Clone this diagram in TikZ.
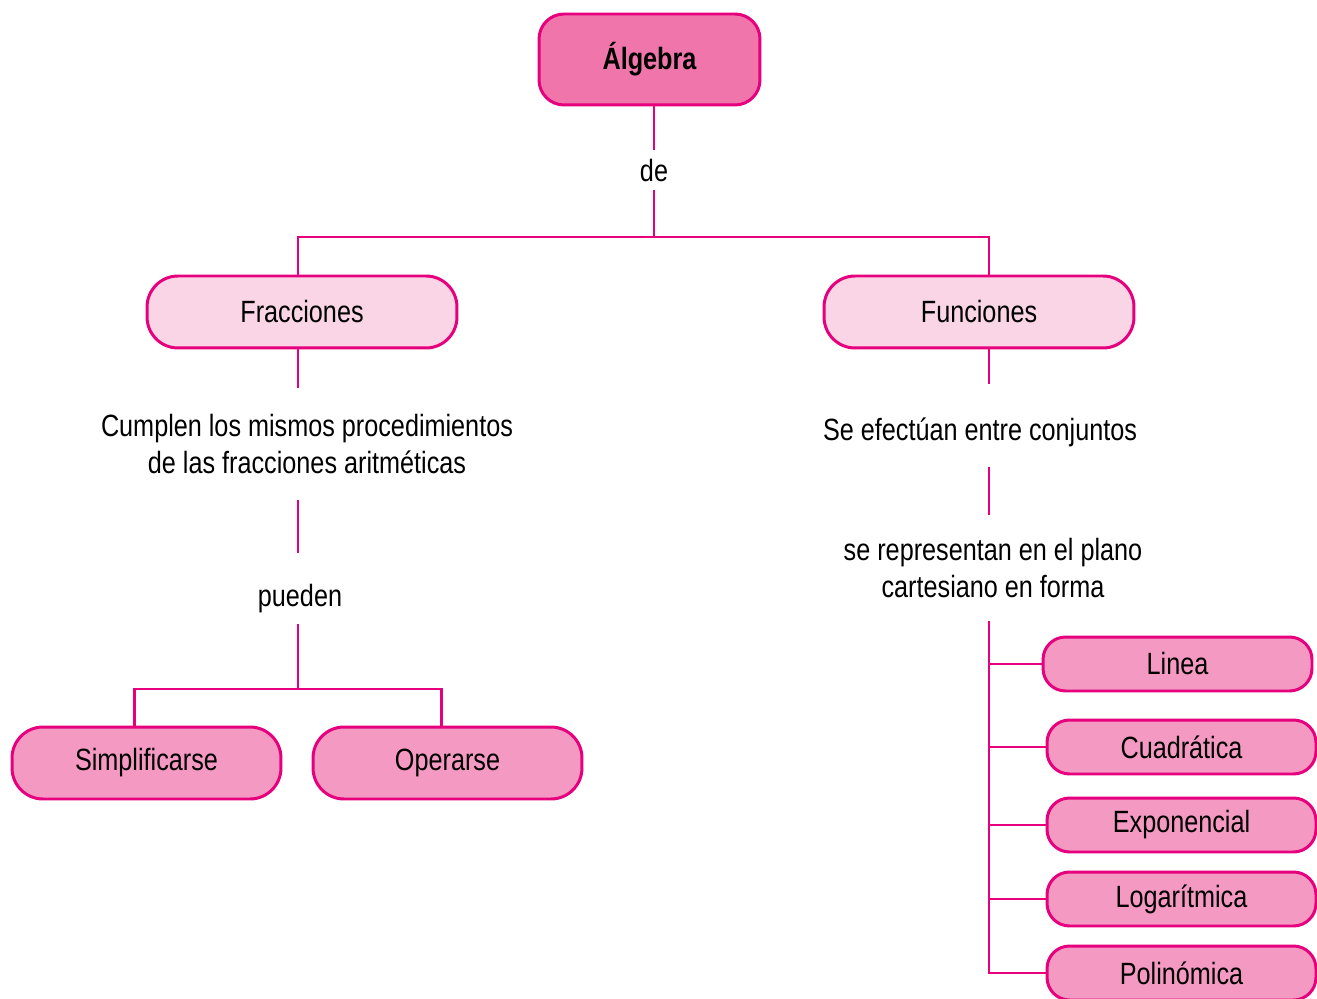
\documentclass[tikz,border=0pt]{standalone}
\usepackage{fontspec}
\setmainfont[FakeStretch=0.82]{Liberation Sans}
\usetikzlibrary{positioning}
\definecolor{mag}{HTML}{E6007E}
\definecolor{topfill}{HTML}{F075AA}
\definecolor{midfill}{HTML}{F9D5E6}
\definecolor{leaffill}{HTML}{F49AC2}

\begin{document}
\begin{tikzpicture}[
   x=0.02cm,y=-0.02cm,
   font=\fontsize{17.5}{21}\selectfont,
   ln/.style={draw=mag,line width=1.5pt},
   box/.style={draw=mag,line width=1.7pt,align=center,inner sep=0pt},
   topbox/.style={box,fill=topfill,rounded corners=0.5cm,minimum width=4.42cm,
                  minimum height=1.82cm,font=\fontsize{17.5}{21}\selectfont\bfseries},
   midbox/.style={box,fill=midfill,rounded corners=0.62cm,minimum width=6.2cm,minimum height=1.44cm},
   lowbox/.style={box,fill=leaffill,rounded corners=0.62cm,minimum width=5.38cm,minimum height=1.44cm},
   leaf/.style={box,fill=leaffill,rounded corners=0.45cm,minimum width=5.38cm,minimum height=1.08cm},
   txt/.style={align=center,inner xsep=0pt,inner ysep=4pt}
 ]
  \useasboundingbox (0,0) rectangle (1317,999);
  \node[topbox] (alg) at (649.5,59.5) {Álgebra};
  \node[txt,text height=13.6pt,text depth=1pt] (de) at (654,170) {de};
  \coordinate (jde) at (654,237);
  \node[midbox] (frac) at (302,312) {Fracciones};
  \node[midbox] (func) at (979,312) {Funciones};

  \node[txt,inner ysep=15pt] (cumplen) at (307,444)
    {Cumplen los mismos procedimientos\\de las fracciones aritméticas};
  \node[txt,text height=26pt,text depth=6pt] (pueden) at (300,588.5) {pueden};
  \coordinate (jpu) at (298,689);
  \node[lowbox] (simp) at (146.5,763) {Simplificarse};
  \node[lowbox] (oper) at (447.5,763) {Operarse};

  \node[txt,text height=28.4pt,text depth=10.8pt] (efect) at (980,425.5) {Se efectúan entre conjuntos};
  \node[txt,inner ysep=13pt] (repr) at (993,568)
    {se representan en el plano\\cartesiano en forma};
  \coordinate (rcol) at (989,620);
  \node[leaf] (lin) at (1177.5,664) {Linea};
  \node[leaf] (cuad) at (1181.5,747) {Cuadrática};
  \node[leaf] (expo) at (1181.5,825) {Exponencial};
  \node[leaf] (loga) at (1181.5,899) {Logarítmica};
  \node[leaf] (poli) at (1181.5,973) {Polinómica};

  \draw[ln] (alg.south -| jde) -- (de.north -| jde);
  \draw[ln] (de.south -| jde) -- (jde);
  \draw[ln] (frac.north -| jpu) |- (jde) -| (rcol |- func.north);
  \draw[ln] (frac.south -| jpu) -- (cumplen.north -| jpu);
  \draw[ln] (cumplen.south -| jpu) -- (pueden.north -| jpu);
  \draw[ln] (pueden.south -| jpu) -- (jpu);
  \draw[ln] ([xshift=-0.24cm]simp.north) |- (jpu) -| ([xshift=-0.12cm]oper.north);
  \draw[ln] (func.south -| rcol) -- (efect.north -| rcol);
  \draw[ln] (efect.south -| rcol) -- (repr.north -| rcol);
  \draw[ln] (repr.south -| rcol) |- (poli.west);
  \draw[ln] (lin.west -| rcol) -- (lin.west);
  \draw[ln] (cuad.west -| rcol) -- (cuad.west);
  \draw[ln] (expo.west -| rcol) -- (expo.west);
  \draw[ln] (loga.west -| rcol) -- (loga.west);
 \end{tikzpicture}
\end{document}
